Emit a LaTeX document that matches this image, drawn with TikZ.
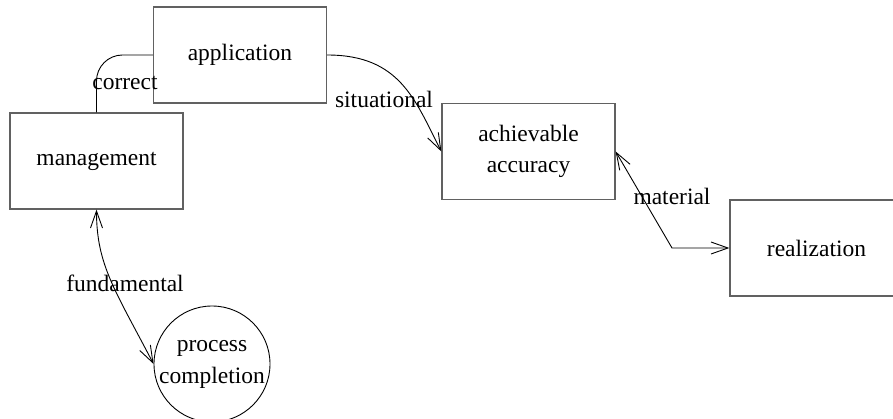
\documentclass[tikz,border=0pt]{standalone}
\usepackage{fontspec}
\setmainfont{Liberation Serif}
\usetikzlibrary{arrows.meta}
\begin{document}
\begin{tikzpicture}[x=1pt,y=-1pt,
  every node/.style={font=\fontsize{23.5}{31}\selectfont},
  box/.style={draw=black!62,line width=1.3pt,minimum width=173pt,minimum height=96pt,inner sep=0pt,align=center},
  lbl/.style={anchor=base,inner sep=0pt},
  conn/.style={draw=black,line width=0.9pt},
  tip/.style={arrows={-{Straight Barb[length=17pt,width=12pt]}}},
  tips/.style={arrows={{Straight Barb[length=17pt,width=12pt]}-{Straight Barb[length=17pt,width=12pt]}}}]
\useasboundingbox (0,0) rectangle (893,419);
\clip (0,0) rectangle (893,419);
\node[box] (app) at (240,55) {application};
\node[box] (mgmt) at (96.5,161) {management};
\node[box] (ach) at (528.5,151.5) {achievable\\accuracy};
\node[box] (real) at (816.5,248) {realization};
\node[circle,draw=black,line width=0.9pt,minimum size=116pt,inner sep=0pt,
  label={[align=center,font=\fontsize{23.5}{32}\selectfont]center:process\\completion}] (proc) at (212,364) {};
\coordinate (mbend) at (672,248);
% connectors
\draw[conn,rounded corners=26pt] (mgmt.north) |- (app.west);
\draw[conn,tip] (app.east) .. controls (400,55) and (415,100) .. (ach.west);
\draw[conn,tips] (ach.east) -- (mbend) -- (real.west);
\draw[conn,tips] (mgmt.south) .. controls (96.5,265) and (115,290) .. (proc.west);
% labels
\node[lbl] (lcorrect) at (125,90) {correct};
\node[lbl] (lsit) at (384,108) {situational};
\node[lbl] (lmat) at (672,205) {material};
\node[lbl] (lfund) at (125,291) {fundamental};
\end{tikzpicture}
\end{document}
